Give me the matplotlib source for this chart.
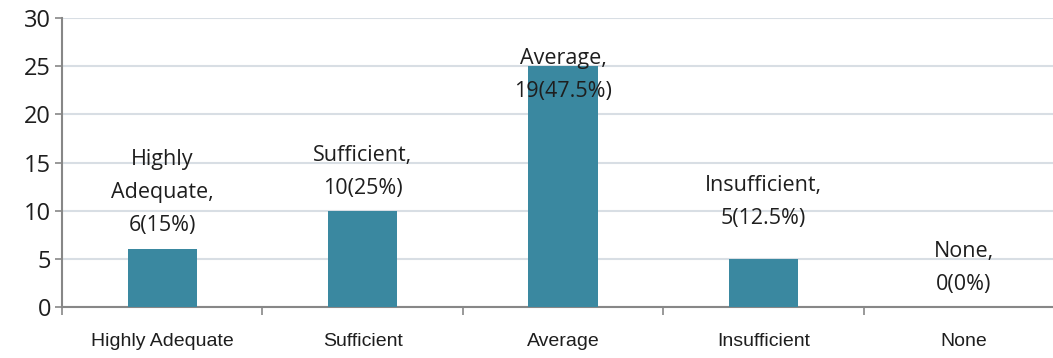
import matplotlib.pyplot as plt

# categories and bar heights as drawn in the picture
categories = ['Highly Adequate', 'Sufficient', 'Average', 'Insufficient', 'None']
bar_heights = [6, 10, 25, 5, 0]
data_labels = ['Highly\nAdequate,\n6(15%)', 'Sufficient,\n10(25%)', 'Average,\n19(47.5%)',
               'Insufficient,\n5(12.5%)', 'None,\n0(0%)']
y_ticks = [0, 5, 10, 15, 20, 25, 30]

# label offsets (pixels above bar top)
label_offsets = [13, 12, -36, 30, 12]

bar_color = '#3A88A0'
grid_color = '#D8DEE4'
axis_color = '#878787'
text_color = '#1E1E1E'

fig = plt.figure(figsize=(10.53, 3.58), dpi=100)
ax = fig.add_axes([62 / 1053, 1 - 307 / 358, 1002 / 1053, 289 / 358])

x = range(len(categories))
ax.bar(x, bar_heights, width=0.345, color=bar_color, zorder=3)

ax.set_xlim(-0.5, len(categories) - 0.5)
ax.set_ylim(0, 30)
ax.set_yticks(y_ticks)
ax.set_yticklabels([str(t) for t in y_ticks], fontsize=17, color=text_color, family='Open Sans')
ax.yaxis.grid(True, color=grid_color, linewidth=1.5, zorder=0)
ax.set_axisbelow(True)

ax.set_xticks([i - 0.5 for i in range(len(categories) + 1)])
ax.set_xticklabels([])
ax.set_xticks(list(x), minor=True)
ax.set_xticklabels(categories, minor=True, fontsize=14, family='Liberation Sans', color=text_color)
ax.tick_params(axis='x', which='major', length=6, direction='out', color=axis_color, width=1.2)
ax.tick_params(axis='x', which='minor', length=0, pad=19)
ax.tick_params(axis='y', length=5, direction='out', color=axis_color, width=1.2, pad=3)

for side in ['top', 'right']:
    ax.spines[side].set_visible(False)
for side in ['left', 'bottom']:
    ax.spines[side].set_color(axis_color)
    ax.spines[side].set_linewidth(1.5)

for i, (h, lab, off) in enumerate(zip(bar_heights, data_labels, label_offsets)):
    ax.annotate(lab, (i, h), xytext=(0, off * 0.72), textcoords='offset points',
                ha='center', va='bottom', fontsize=15.5, family='Open Sans',
                color=text_color, linespacing=1.75, zorder=4)

fig.savefig('out.png', dpi=100)
